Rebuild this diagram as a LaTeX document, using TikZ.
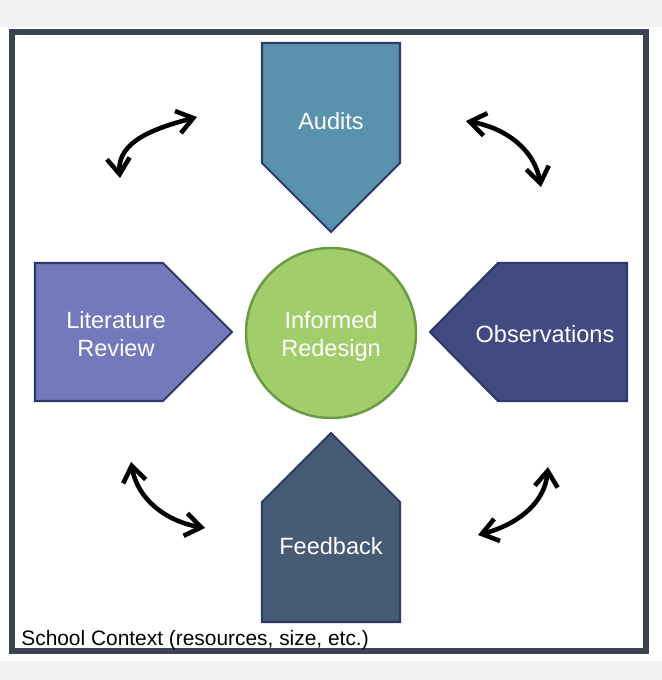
\documentclass[tikz,border=0pt]{standalone}
\usepackage{fontspec}
\setmainfont{Liberation Sans}
\usepackage{tikz}
\usetikzlibrary{arrows.meta}

\definecolor{frameC}{HTML}{3B4252}
\definecolor{bandC}{HTML}{F2F2F2}
\definecolor{edgeC}{HTML}{2C3B6A}
\definecolor{auditC}{HTML}{5A92AD}
\definecolor{litC}{HTML}{7479BB}
\definecolor{obsC}{HTML}{434A80}
\definecolor{feedC}{HTML}{465C72}
\definecolor{coreC}{HTML}{A1CD6B}
\definecolor{coreEdge}{HTML}{6B9A45}

\begin{document}
\begin{tikzpicture}[
  x=0.02cm, y=-0.02cm,
  >={Straight Barb[length=9pt,width=13pt]},
  shapebox/.style={draw=edgeC, line width=1.2pt, line join=miter},
  audit/.style={shapebox, fill=auditC},
  lit/.style={shapebox, fill=litC},
  obs/.style={shapebox, fill=obsC},
  feed/.style={shapebox, fill=feedC},
  core/.style={circle, draw=coreEdge, line width=1.4pt, fill=coreC,
    minimum size=170*0.02cm, inner sep=0pt},
  label/.style={text=white, align=center, inner sep=0pt,
    font=\fontsize{13.4}{16}\selectfont},
  cycle/.style={<->, line width=2.6pt, line cap=round, black},
]
\useasboundingbox (0,0) rectangle (662,680);

% --- background bands and frame ---
\fill[bandC] (0,0) rectangle (662,27);
\fill[bandC] (0,661) rectangle (662,680);
\draw[frameC, line width=3.4pt] (12,32) rectangle (646,651);

% --- Audits (points down) ---
\draw[audit] (262,43) -- (400,43) -- (400,163) -- (331,232) -- (262,163) -- cycle;
\node[label] (AUD) at (331,121) {Audits};

% --- Literature Review (points right) ---
\draw[lit] (35,263) -- (163,263) -- (232,332) -- (163,401) -- (35,401) -- cycle;
\node[label] (LIT) at (116,334) {Literature\\ Review};

% --- Observations (points left) ---
\draw[obs] (627,263) -- (498,263) -- (430,332) -- (498,401) -- (627,401) -- cycle;
\node[label] (OBS) at (545,334) {Observations};

% --- Feedback (points up) ---
\draw[feed] (262,622) -- (400,622) -- (400,502) -- (331,433) -- (262,502) -- cycle;
\node[label] (FB) at (331,546) {Feedback};

% --- Centre ---
\node[core] (CORE) at (331,333) {};
\node[label] (CORET) at (331,336) {Informed\\ Redesign};

% --- School context ---
\node[anchor=base west, inner sep=0pt, font=\fontsize{11.9}{14}\selectfont]
  (CTX) at (21,645) {School Context (resources, size, etc.)};

% --- Cycle arrows ---
\coordinate (TLa) at (120,178);
\coordinate (TLb) at (197,117);
\coordinate (TRa) at (541,187);
\coordinate (TRb) at (466,121);
\coordinate (BLa) at (131,462);
\coordinate (BLb) at (205,528);
\coordinate (BRa) at (548,467);
\coordinate (BRb) at (478,535);

\draw[cycle] (TLa) to[out=95,in=195] (TLb);
\draw[cycle] (TRa) to[out=100,in=-10] (TRb);
\draw[cycle] (BLa) to[out=-80,in=170] (BLb);
\draw[cycle] (BRa) to[out=-95,in=15] (BRb);

\end{tikzpicture}
\end{document}
